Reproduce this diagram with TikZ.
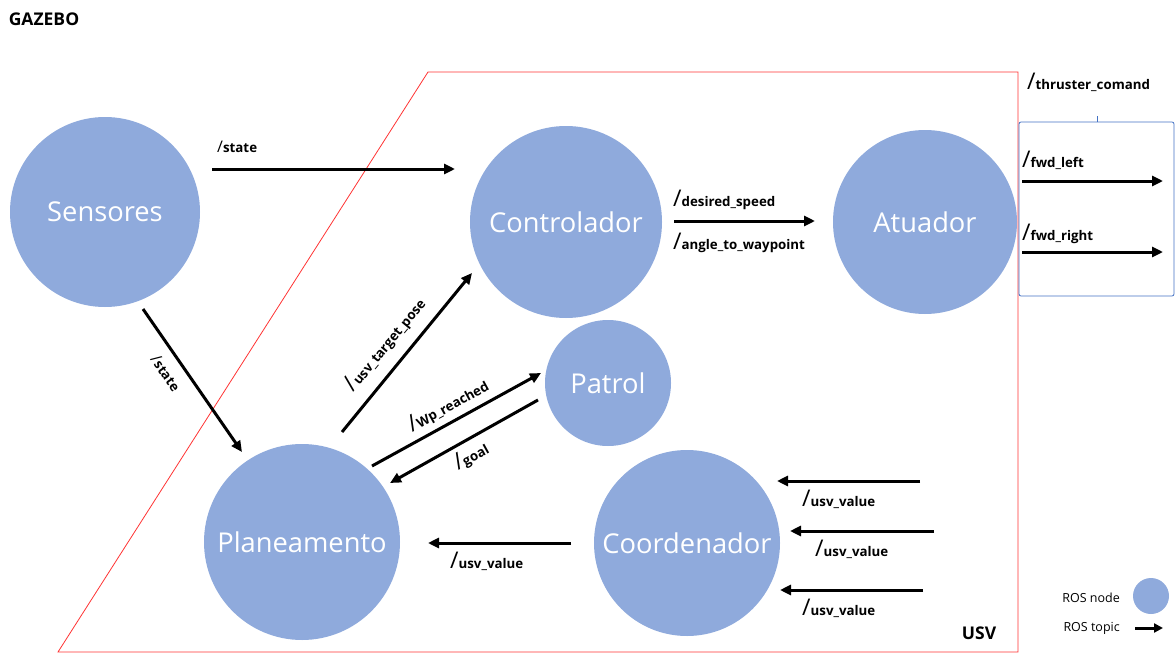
\documentclass[tikz,border=0pt]{standalone}
\usepackage{fontspec}
\setmainfont{Open Sans}
\usetikzlibrary{arrows.meta}
\definecolor{nodeblue}{RGB}{143,170,220}
\definecolor{boxblue}{RGB}{68,114,196}
% topic name: slash (size given as optional argument) followed by the bold name
\newcommand\topic[2][23]{{\fontsize{#1}{#1}\selectfont /}{\fontsize{13.3}{15}\selectfont\bfseries #2}}
\begin{document}
\begin{tikzpicture}[x=1pt,y=-1pt,
  rosnode/.style={circle, fill=nodeblue, inner sep=0pt, text=white,
    font=\fontsize{27.3}{31}\selectfont},
  topicarrow/.style={line width=3pt, -{Triangle[length=11pt,width=10pt]}},
  lbl/.style={inner sep=0pt},
  title/.style={inner sep=0pt, font=\fontsize{17.5}{20}\selectfont\bfseries},
  legtext/.style={inner sep=0pt, anchor=east, font=\fontsize{12.5}{15}\selectfont}]
\useasboundingbox (0,0) rectangle (1176,653);

% USV boundary and thruster bracket
\draw[red!80, line width=0.8pt] (428,72) -- (1018,72) -- (1018,652) -- (58,652) -- cycle;
\draw[boxblue, line width=0.8pt, rounded corners=2pt] (1019,296) -- (1019,122) -- (1174,122) -- (1174,296) -- cycle;
\draw[boxblue, line width=0.8pt] (1097,116) -- (1097,122);

\node[title] (gazebo) at (44,19) {GAZEBO};
\node[title] (usv) at (979,633) {USV};

% ROS nodes
\node[rosnode, minimum size=190pt] (sens) at (105,212) {Sensores};
\node[rosnode, minimum size=192pt] (ctrl) at (566,222) {Controlador};
\node[rosnode, minimum size=184pt] (atu) at (925,222) {Atuador};
\node[rosnode, minimum size=126pt] (patrol) at (608,383) {Patrol};
\node[rosnode, minimum size=196pt] (plan) at (302,542) {Planeamento};
\node[rosnode, minimum size=186pt] (coord) at (687,543) {Coordenador};

% topic arrow end points
\coordinate (s1) at (212,169);  \coordinate (s2) at (455,169);
\coordinate (d1) at (674,221);  \coordinate (d2) at (815,221);
\coordinate (l1) at (1022,181); \coordinate (l2) at (1163,181);
\coordinate (r1) at (1022,252); \coordinate (r2) at (1163,252);
\coordinate (t1) at (143,309);  \coordinate (t2) at (242,452);
\coordinate (p1) at (342,432);  \coordinate (p2) at (472,273);
\coordinate (w1) at (372,466);  \coordinate (w2) at (541,373);
\coordinate (g1) at (538,400);  \coordinate (g2) at (390,483);
\coordinate (u1) at (571,543);  \coordinate (u2) at (428,543);
\coordinate (a1) at (920,481);  \coordinate (a2) at (777,481);
\coordinate (b1) at (934,531);  \coordinate (b2) at (790,531);
\coordinate (c1) at (923,590);  \coordinate (c2) at (780,590);

\draw[topicarrow] (s1) -- (s2);
\draw[topicarrow] (d1) -- (d2);
\draw[topicarrow] (l1) -- (l2);
\draw[topicarrow] (r1) -- (r2);
\draw[topicarrow] (t1) -- (t2);
\draw[topicarrow] (p1) -- (p2);
\draw[topicarrow] (w1) -- (w2);
\draw[topicarrow] (g1) -- (g2);
\draw[topicarrow] (u1) -- (u2);
\draw[topicarrow] (a1) -- (a2);
\draw[topicarrow] (b1) -- (b2);
\draw[topicarrow] (c1) -- (c2);

% topic labels
\node[lbl, anchor=west] (ls) at (217,147) {\topic[16]{state}};
\node[lbl, anchor=west] (ld) at (673,200) {\topic{desired\_speed}};
\node[lbl, anchor=west] (la) at (673,243) {\topic{angle\_to\_waypoint}};
\node[lbl, anchor=west] (lth) at (1027,82) {\topic{thruster\_comand}};
\node[lbl, anchor=west] (lfl) at (1022,160) {\topic{fwd\_left}};
\node[lbl, anchor=west] (lfr) at (1022,234) {\topic{fwd\_right}};
\node[lbl, rotate=-55] (lst) at (166,373) {\topic[16]{state}};
\node[lbl, rotate=50.7] (ltp) at (385,344) {\topic{usv\_target\_pose}};
\node[lbl, rotate=28.8] (lwp) at (448,405) {\topic{Wp\_reached}};
\node[lbl, rotate=29] (lgo) at (471,456) {\topic{goal}};
\node[lbl, anchor=west] (lu) at (450,561) {\topic{usv\_value}};
\node[lbl, anchor=west] (la3) at (802,499) {\topic{usv\_value}};
\node[lbl, anchor=west] (lb3) at (815,549) {\topic{usv\_value}};
\node[lbl, anchor=west] (lc3) at (802,608) {\topic{usv\_value}};

% legend
\node[circle, fill=nodeblue, minimum size=36pt, inner sep=0pt] (legnode) at (1151,596) {};
\node[legtext] (legnl) at (1120,598) {ROS node};
\node[legtext] (legtl) at (1120,628) {ROS topic};
\coordinate (e1) at (1135,628); \coordinate (e2) at (1163,628);
\draw[line width=3pt, -{Triangle[length=9pt,width=9pt]}] (e1) -- (e2);
\end{tikzpicture}
\end{document}
